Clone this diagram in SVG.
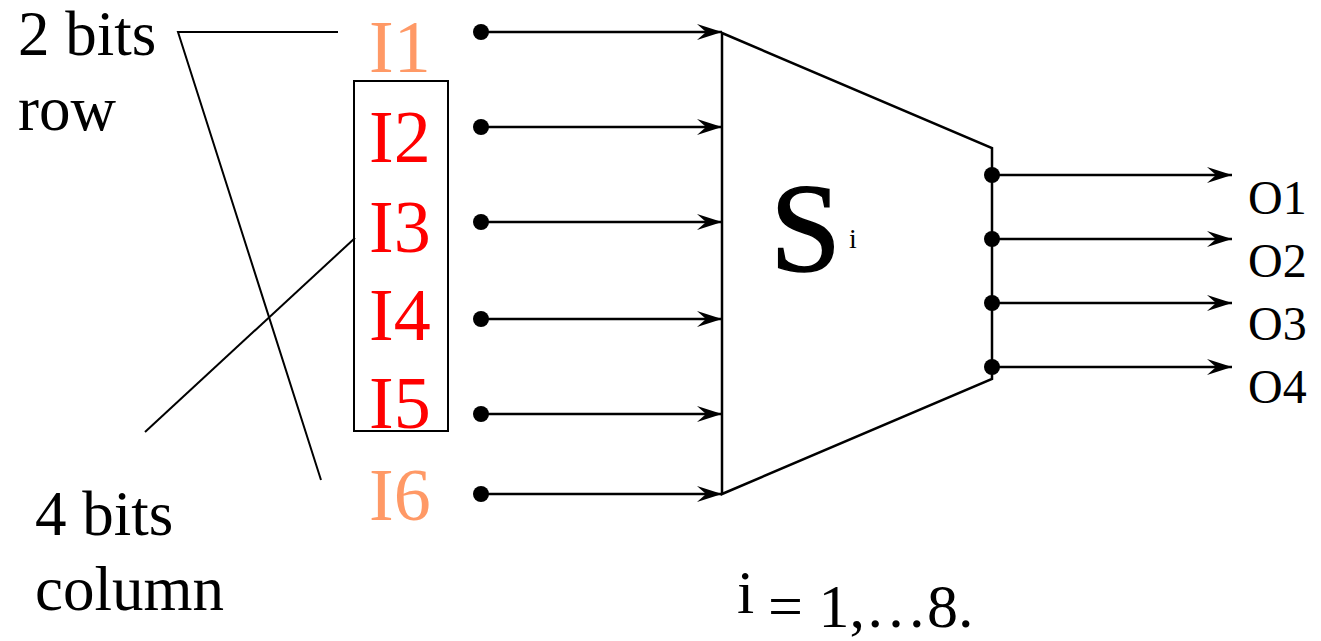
<svg xmlns="http://www.w3.org/2000/svg" width="1321" height="641" viewBox="0 0 1321 641">
<defs>
<marker id="arr" markerUnits="userSpaceOnUse" markerWidth="30" markerHeight="20" refX="26" refY="8" orient="auto">
<path d="M26,8 L1,0 L10,8 L1,16 Z" fill="#000"/>
</marker>
</defs>
<style>
text{font-family:'Liberation Serif','Times New Roman',serif}
.ln{stroke:#000;stroke-width:2.5;fill:none}
.th{stroke:#000;stroke-width:2;fill:none}
.dot{fill:#000}
.or{fill:#FF9966}
.rd{fill:#FF0000}
</style>
<rect width="1321" height="641" fill="#fff"/>
<g id="labels-left" fill="#000">
<text x="18" y="55" font-size="63">2 bits</text>
<text x="18" y="130" font-size="63">row</text>
<text x="35" y="535" font-size="63">4 bits</text>
<text x="35" y="610" font-size="63">column</text>
</g>
<g id="pointers">
<polyline class="th" points="338,32 178,32 321,480"/>
<line class="th" x1="355" y1="238" x2="145" y2="432"/>
</g>
<g id="inputs">
<text class="or" x="369" y="72" font-size="74">I1</text>
<rect class="th" x="354" y="81" width="94" height="350"/>
<text class="rd" x="369" y="162" font-size="74">I2</text>
<text class="rd" x="369" y="252" font-size="74">I3</text>
<text class="rd" x="369" y="340" font-size="74">I4</text>
<text class="rd" x="369" y="428" font-size="74">I5</text>
<text class="or" x="369" y="520" font-size="74">I6</text>
</g>
<g id="sbox" fill="#000">
<polygon class="ln" points="722,33 992,148 992,379 722,494"/>
<text x="770" y="271" font-size="128" stroke="#000" stroke-width="1.5">S</text>
<text x="849" y="248" font-size="28">i</text>
</g>
<g id="connectors">
<g class="dot">
<circle cx="481" cy="32" r="8"/>
<circle cx="481" cy="127" r="8"/>
<circle cx="481" cy="222" r="8"/>
<circle cx="481" cy="319" r="8"/>
<circle cx="481" cy="414" r="8"/>
<circle cx="481" cy="494" r="8"/>
<circle cx="992" cy="175" r="8"/>
<circle cx="992" cy="239" r="8"/>
<circle cx="992" cy="303" r="8"/>
<circle cx="992" cy="367" r="8"/>
</g>
<line class="ln" x1="481" y1="32" x2="722" y2="32" marker-end="url(#arr)"/>
<line class="ln" x1="481" y1="127" x2="722" y2="127" marker-end="url(#arr)"/>
<line class="ln" x1="481" y1="222" x2="722" y2="222" marker-end="url(#arr)"/>
<line class="ln" x1="481" y1="319" x2="722" y2="319" marker-end="url(#arr)"/>
<line class="ln" x1="481" y1="414" x2="722" y2="414" marker-end="url(#arr)"/>
<line class="ln" x1="481" y1="494" x2="722" y2="494" marker-end="url(#arr)"/>
<line class="ln" x1="992" y1="175" x2="1232" y2="175" marker-end="url(#arr)"/>
<line class="ln" x1="992" y1="239" x2="1232" y2="239" marker-end="url(#arr)"/>
<line class="ln" x1="992" y1="303" x2="1232" y2="303" marker-end="url(#arr)"/>
<line class="ln" x1="992" y1="367" x2="1232" y2="367" marker-end="url(#arr)"/>
</g>
<g id="outputs" fill="#000">
<text x="1248" y="214" font-size="48">O1</text>
<text x="1248" y="277" font-size="48">O2</text>
<text x="1248" y="340" font-size="48">O3</text>
<text x="1248" y="403" font-size="48">O4</text>
</g>
<g id="range" fill="#000">
<text x="737" y="613" font-size="62">i</text>
<text x="768" y="627" font-size="62">= 1,…8.</text>
</g>
</svg>
